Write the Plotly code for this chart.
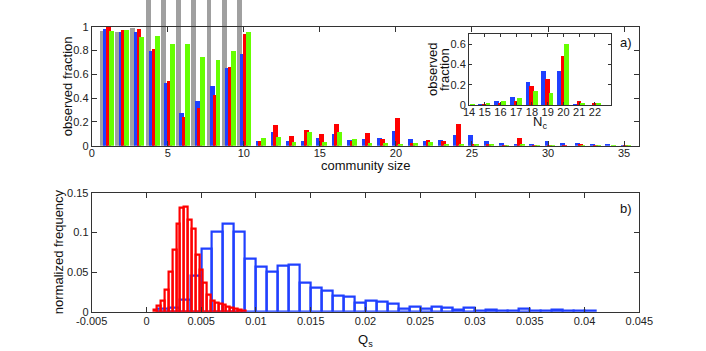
import plotly.graph_objects as go

# ---------------- data ----------------
community_size = list(range(1, 36))
gray_frac = [0.964, 0.955, 0.986, 1.25, 1.25, 1.25, 1.25, 1.25, 1.25, 1.25] + [0] * 25
blue_frac = [0.98, 0.955, 0.953, 0.80, 0.53, 0.275, 0.378, 0.502, 0.65, 0.77,
             0.04, 0.112, 0.037, 0.04, 0.067, 0.10, 0.048, 0.056, 0.062, 0.121,
             0.054, 0.04, 0.045, 0.092, 0.087, 0.037, 0.02, 0.017, 0.01, 0.042,
             0.02, 0.025, 0.012, 0.01, 0.004]
red_frac = [1.0, 0.972, 0.98, 0.815, 0.541, 0.244, 0.32, 0.423, 0.661, 0.941,
            0.04, 0.177, 0.079, 0.132, 0.101, 0.182, 0.04, 0.104, 0.053, 0.233,
            0.023, 0.048, 0.037, 0.182, 0.014, 0.01, 0.002, 0.062, 0.004, 0.003,
            0.004, 0.01, 0.003, 0.0, 0.002]
green_frac = [0.964, 0.972, 0.913, 0.924, 0.852, 0.857, 0.748, 0.723, 0.793, 0.953,
              0.067, 0.073, 0.033, 0.118, 0.033, 0.118, 0.056, 0.02, 0.02, 0.014,
              0.023, 0.03, 0.012, 0.006, 0.014, 0.012, 0.003, 0.007, 0.002, 0.001,
              0.0, 0.005, 0.005, 0.003, 0.002]

inset_nc = [14, 15, 16, 17, 18, 19, 20, 21, 22]
inset_blue = [0.0, 0.002, 0.04, 0.076, 0.224, 0.333, 0.336, 0.002, 0.0]
inset_red = [0.0, 0.003, 0.02, 0.036, 0.185, 0.254, 0.485, 0.036, 0.013]
inset_green = [0.003, 0.016, 0.036, 0.07, 0.142, 0.119, 0.597, 0.023, 0.02]

# histogram of Q_s (normalized frequency)
blue_bin_start, blue_bin_width = 0.001, 0.001
blue_hist = [0.004, 0.005, 0.0155, 0.045, 0.080, 0.101, 0.1105, 0.1005, 0.067, 0.057,
             0.051, 0.058, 0.0596, 0.0367, 0.0305, 0.0267, 0.0205, 0.0192, 0.0117, 0.0134,
             0.0125, 0.0096, 0.0042, 0.0059, 0.004, 0.006, 0.0045, 0.003, 0.005, 0.001,
             0.003, 0.001, 0.0012, 0.004, 0.0015, 0.0015, 0.0025, 0.0015, 0.0015, 0.0015]
red_bin_start, red_bin_width = 0.00062, 0.00035
red_hist = [0.0021, 0.0074, 0.0134, 0.0279, 0.050, 0.0776, 0.1105, 0.1305, 0.1325, 0.116,
            0.104, 0.0717, 0.0534, 0.0367, 0.0217, 0.0134, 0.0113, 0.0095, 0.0084, 0.0063,
            0.0055, 0.0042, 0.003, 0.0015]

top_xticks = [0, 5, 10, 15, 20, 25, 30, 35]
top_yticks = [0, 0.2, 0.4, 0.6, 0.8, 1]
top_yticklabels = ["0", "0.2", "0.4", "0.6", "0.8", "1"]
inset_yticks = [0, 0.2, 0.4, 0.6]
inset_yticklabels = ["0", "0.2", "0.4", "0.6"]
bot_xticks = [-0.005, 0, 0.005, 0.01, 0.015, 0.02, 0.025, 0.03, 0.035, 0.04, 0.045]
bot_xticklabels = ["-0.005", "0", "0.005", "0.01", "0.015", "0.02", "0.025",
                   "0.03", "0.035", "0.04", "0.045"]
bot_yticks = [0, 0.05, 0.1, 0.15]
bot_yticklabels = ["0", "0.05", "0.1", "0.15"]

# ---------------- style ----------------
W, H = 706, 351
GRAY = "#a0a0a0"
BLUE = "#2040ff"
RED = "#ff0000"
GREEN = "#66ff00"
AX = "#333333"
FONT = "Liberation Sans, Arial, Helvetica, sans-serif"

def fx(p):
    return p / W

def fy(p):
    return 1 - p / H

L, R = 91.7, 639.3
TOP_T, TOP_B = 26.7, 145.7
BOT_T, BOT_B = 192.7, 311.7
IN_L, IN_R, IN_T, IN_B = 469.0, 610.7, 34.0, 105.0

fig = go.Figure()

# top bars (on a tall axis so grey bars can run off the top of the frame)
for vals, col, off, wd in [(gray_frac, GRAY, -0.47, 0.32),
                           (blue_frac, BLUE, -0.25, 0.32),
                           (red_frac, RED, -0.07, 0.32),
                           (green_frac, GREEN, 0.12, 0.32)]:
    fig.add_trace(go.Bar(x=community_size, y=vals, offset=off, width=wd,
                         marker=dict(color=col, line=dict(width=0)),
                         xaxis="x", yaxis="y", showlegend=False, hoverinfo="skip"))

# frame axes for top panel
fig.add_trace(go.Scatter(x=[None], y=[None], xaxis="x2", yaxis="y2",
                         showlegend=False, hoverinfo="skip"))

# inset bars
for vals, col, off, wd in [(inset_blue, BLUE, -0.40, 0.30),
                           (inset_red, RED, -0.17, 0.30),
                           (inset_green, GREEN, 0.05, 0.31)]:
    fig.add_trace(go.Bar(x=inset_nc, y=vals, offset=off, width=wd,
                         marker=dict(color=col, line=dict(width=0)),
                         xaxis="x3", yaxis="y3", showlegend=False, hoverinfo="skip"))

# bottom histograms
blue_centers = [blue_bin_start + blue_bin_width * (i + 0.5) for i in range(len(blue_hist))]
red_centers = [red_bin_start + red_bin_width * (i + 0.5) for i in range(len(red_hist))]
fig.add_trace(go.Bar(x=blue_centers, y=blue_hist, width=blue_bin_width,
                     marker=dict(color="rgba(0,0,0,0)", line=dict(color=BLUE, width=2.2)),
                     xaxis="x4", yaxis="y4", showlegend=False, hoverinfo="skip"))
fig.add_trace(go.Bar(x=red_centers, y=red_hist, width=red_bin_width,
                     marker=dict(color="rgba(0,0,0,0)", line=dict(color=RED, width=2.2)),
                     xaxis="x4", yaxis="y4", showlegend=False, hoverinfo="skip"))

common = dict(showgrid=False, zeroline=False, ticks="inside", showline=True,
              linecolor=AX, linewidth=1, tickcolor=AX, mirror="allticks",
              automargin=False,
              tickfont=dict(family=FONT, size=11, color="#222"))

hidden = dict(visible=False, showgrid=False, zeroline=False, automargin=False)

fig.update_layout(
    template="none",
    width=W, height=H,
    margin=dict(l=0, r=0, t=0, b=0, pad=0, autoexpand=False),
    paper_bgcolor="white", plot_bgcolor="rgba(0,0,0,0)",
    barmode="overlay", bargap=0,
    font=dict(family=FONT, size=13, color="#111"),
    xaxis=dict(domain=[fx(L), fx(R)], range=[0, 36], anchor="y", **hidden),
    yaxis=dict(domain=[fy(TOP_B), 1.0], range=[0, TOP_B / (TOP_B - TOP_T)],
               anchor="x", **hidden),
    xaxis2=dict(domain=[fx(L), fx(R)], range=[0, 36], anchor="y2",
                tickvals=top_xticks, ticklen=5, ticklabelstandoff=-3, **common),
    yaxis2=dict(domain=[fy(TOP_B), fy(TOP_T)], range=[0, 1], anchor="x2",
                tickvals=top_yticks, ticktext=top_yticklabels, ticklen=5, **common),
    xaxis3=dict(domain=[fx(IN_L), fx(IN_R)], range=[14, 23], anchor="y3",
                tickvals=inset_nc, ticklen=3, ticklabelstandoff=-3, **common),
    yaxis3=dict(domain=[fy(IN_B), fy(IN_T)], range=[0, 0.7], anchor="x3",
                tickvals=inset_yticks, ticktext=inset_yticklabels, ticklen=3, **common),
    xaxis4=dict(domain=[fx(L), fx(R)], range=[-0.005, 0.045], anchor="y4",
                tickvals=bot_xticks, ticktext=bot_xticklabels, ticklen=5,
                ticklabelstandoff=-1, **common),
    yaxis4=dict(domain=[fy(BOT_B), fy(BOT_T)], range=[0, 0.15], anchor="x4",
                tickvals=bot_yticks, ticktext=bot_yticklabels, ticklen=5, **common),
)

def ann(text, x, y, angle=0, size=13):
    fig.add_annotation(text=text, x=fx(x), y=fy(y), xref="paper", yref="paper",
                       showarrow=False, textangle=angle, xanchor="center",
                       yanchor="middle", font=dict(family=FONT, size=size, color="#111"))

ann("observed fraction", 67, (TOP_T + TOP_B) / 2, -90)
ann("community size", (L + R) / 2, 166)
ann("normalized frequency", 58, (BOT_T + BOT_B) / 2, -90)
ann("Q<sub>s</sub>", (L + R) / 2, 340)
ann("N<sub>c</sub>", (IN_L + IN_R) / 2, 123)
ann("observed", 432.5, (IN_T + IN_B) / 2, -90)
ann("fraction", 444.5, (IN_T + IN_B) / 2, -90)
ann("a)", 626, 42)
ann("b)", 626, 208)

fig.write_html("out.html",
               config={"displayModeBar": False},
               post_script="document.body.style.margin='0px';"
                           "document.body.style.overflow='hidden';")
